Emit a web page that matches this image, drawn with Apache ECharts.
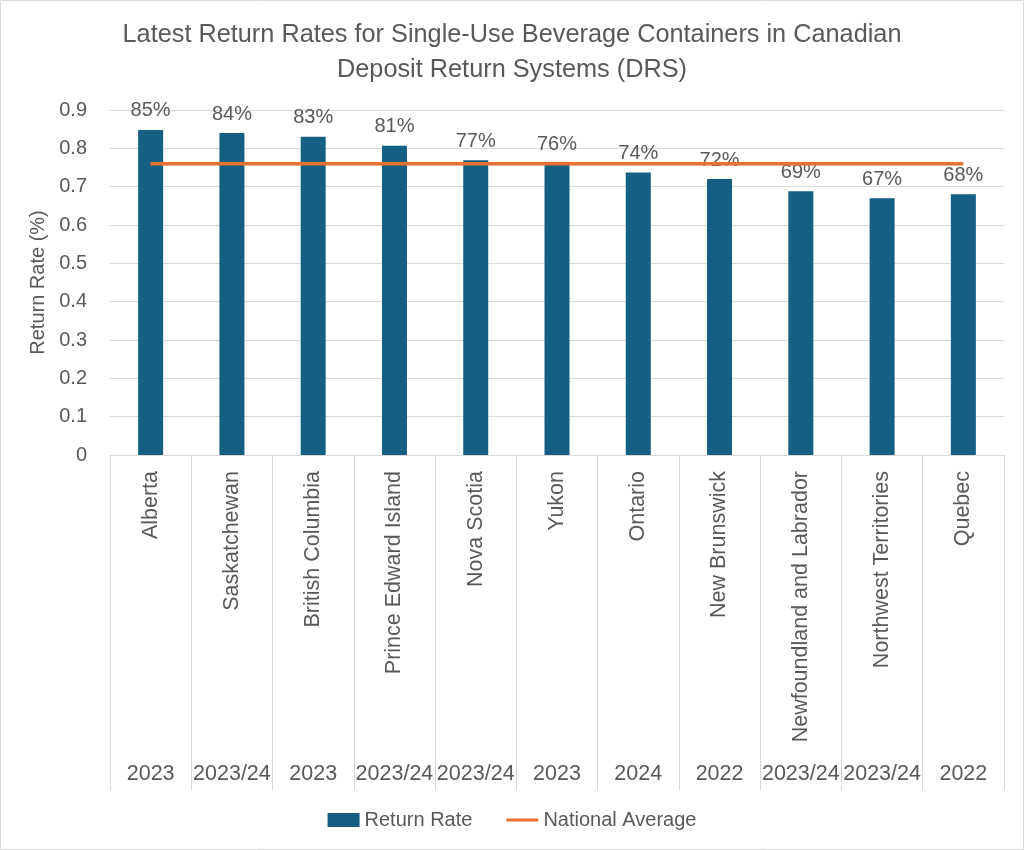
<!DOCTYPE html>
<html>
<head>
<meta charset="utf-8">
<script src="https://cdn.jsdelivr.net/npm/echarts@6/dist/echarts.min.js"></script>
<style>
html,body{margin:0;padding:0;background:#fff;}
#c{width:1024px;height:850px;}
</style>
</head>
<body>
<div id="c"></div>
<script>
var provinces = ["Alberta","Saskatchewan","British Columbia","Prince Edward Island","Nova Scotia","Yukon","Ontario","New Brunswick","Newfoundland and Labrador","Northwest Territories","Quebec"];
var years = ["2023","2023/24","2023","2023/24","2023/24","2023","2024","2022","2023/24","2023/24","2022"];
var returnRate = [0.848,0.84,0.83,0.807,0.769,0.76,0.737,0.72,0.688,0.67,0.68];
var nationalAverage = [0.76,0.76,0.76,0.76,0.76,0.76,0.76,0.76,0.76,0.76,0.76];

var FONT = '"Liberation Sans", Arial, sans-serif';
var TXT = '#595959';
var GRID = '#D9D9D9';

var chart = echarts.init(document.getElementById('c'));
chart.setOption({
  animation: false,
  textStyle: {fontFamily: FONT, color: TXT},
  title: {
    text: 'Latest Return Rates for Single-Use Beverage Containers in Canadian\nDeposit Return Systems (DRS)',
    left: 'center', top: 13,
    textStyle: {fontFamily: FONT, fontSize: 25.3, fontWeight: 'normal', color: TXT, lineHeight: 35}
  },
  graphic: [{
    type: 'rect', shape: {x: 0.5, y: 0.5, width: 1023, height: 849},
    style: {fill: 'none', stroke: GRID, lineWidth: 1}, silent: true
  }],
  legend: {
    bottom: 15, left: 'center', itemGap: 34, itemWidth: 32, itemHeight: 14,
    textStyle: {fontFamily: FONT, fontSize: 20, color: TXT},
    data: [
      {name: 'Return Rate', icon: 'rect'},
      {name: 'National Average', icon: 'path://M0,0 L0,0 M0,5.5 L32,5.5 L32,8.5 L0,8.5 Z M32,14 L32,14'}
    ]
  },
  grid: {left: 110, right: 20, top: 110, bottom: 395},
  xAxis: [{
    type: 'category', data: provinces, position: 'bottom',
    axisLine: {show: true, lineStyle: {color: GRID, width: 1}},
    axisTick: {show: true, interval: 0, length: 335, lineStyle: {color: GRID, width: 1}},
    axisLabel: {interval: 0, rotate: 90, margin: 16, fontSize: 21.5, color: TXT, fontFamily: FONT}
  }, {
    type: 'category', data: years, position: 'bottom', offset: 300,
    axisLine: {show: false}, axisTick: {show: false},
    axisLabel: {interval: 0, margin: 8, fontSize: 21.5, color: TXT, fontFamily: FONT}
  }],
  yAxis: {
    type: 'value', min: 0, max: 0.9, interval: 0.1,
    name: 'Return Rate (%)', nameLocation: 'middle', nameGap: 62,
    nameTextStyle: {fontSize: 20, color: TXT, fontFamily: FONT},
    axisLine: {show: false}, axisTick: {show: false},
    axisLabel: {margin: 23, fontSize: 20, color: TXT, fontFamily: FONT,
      formatter: function (v) { return v === 0 ? '0' : v.toFixed(1); }},
    splitLine: {lineStyle: {color: GRID, width: 1}}
  },
  series: [{
    name: 'Return Rate', type: 'bar', data: returnRate, barWidth: 25,
    itemStyle: {color: '#156082'},
    label: {show: true, position: 'top', distance: 9, fontSize: 20, color: TXT, fontFamily: FONT,
      formatter: function (p) { return Math.round(p.value * 100) + '%'; }}
  }, {
    name: 'National Average', type: 'line', data: nationalAverage,
    symbol: 'none', lineStyle: {color: '#E97132', width: 3.5}, itemStyle: {color: '#E97132'}, z: 5
  }]
});
</script>
</body>
</html>
